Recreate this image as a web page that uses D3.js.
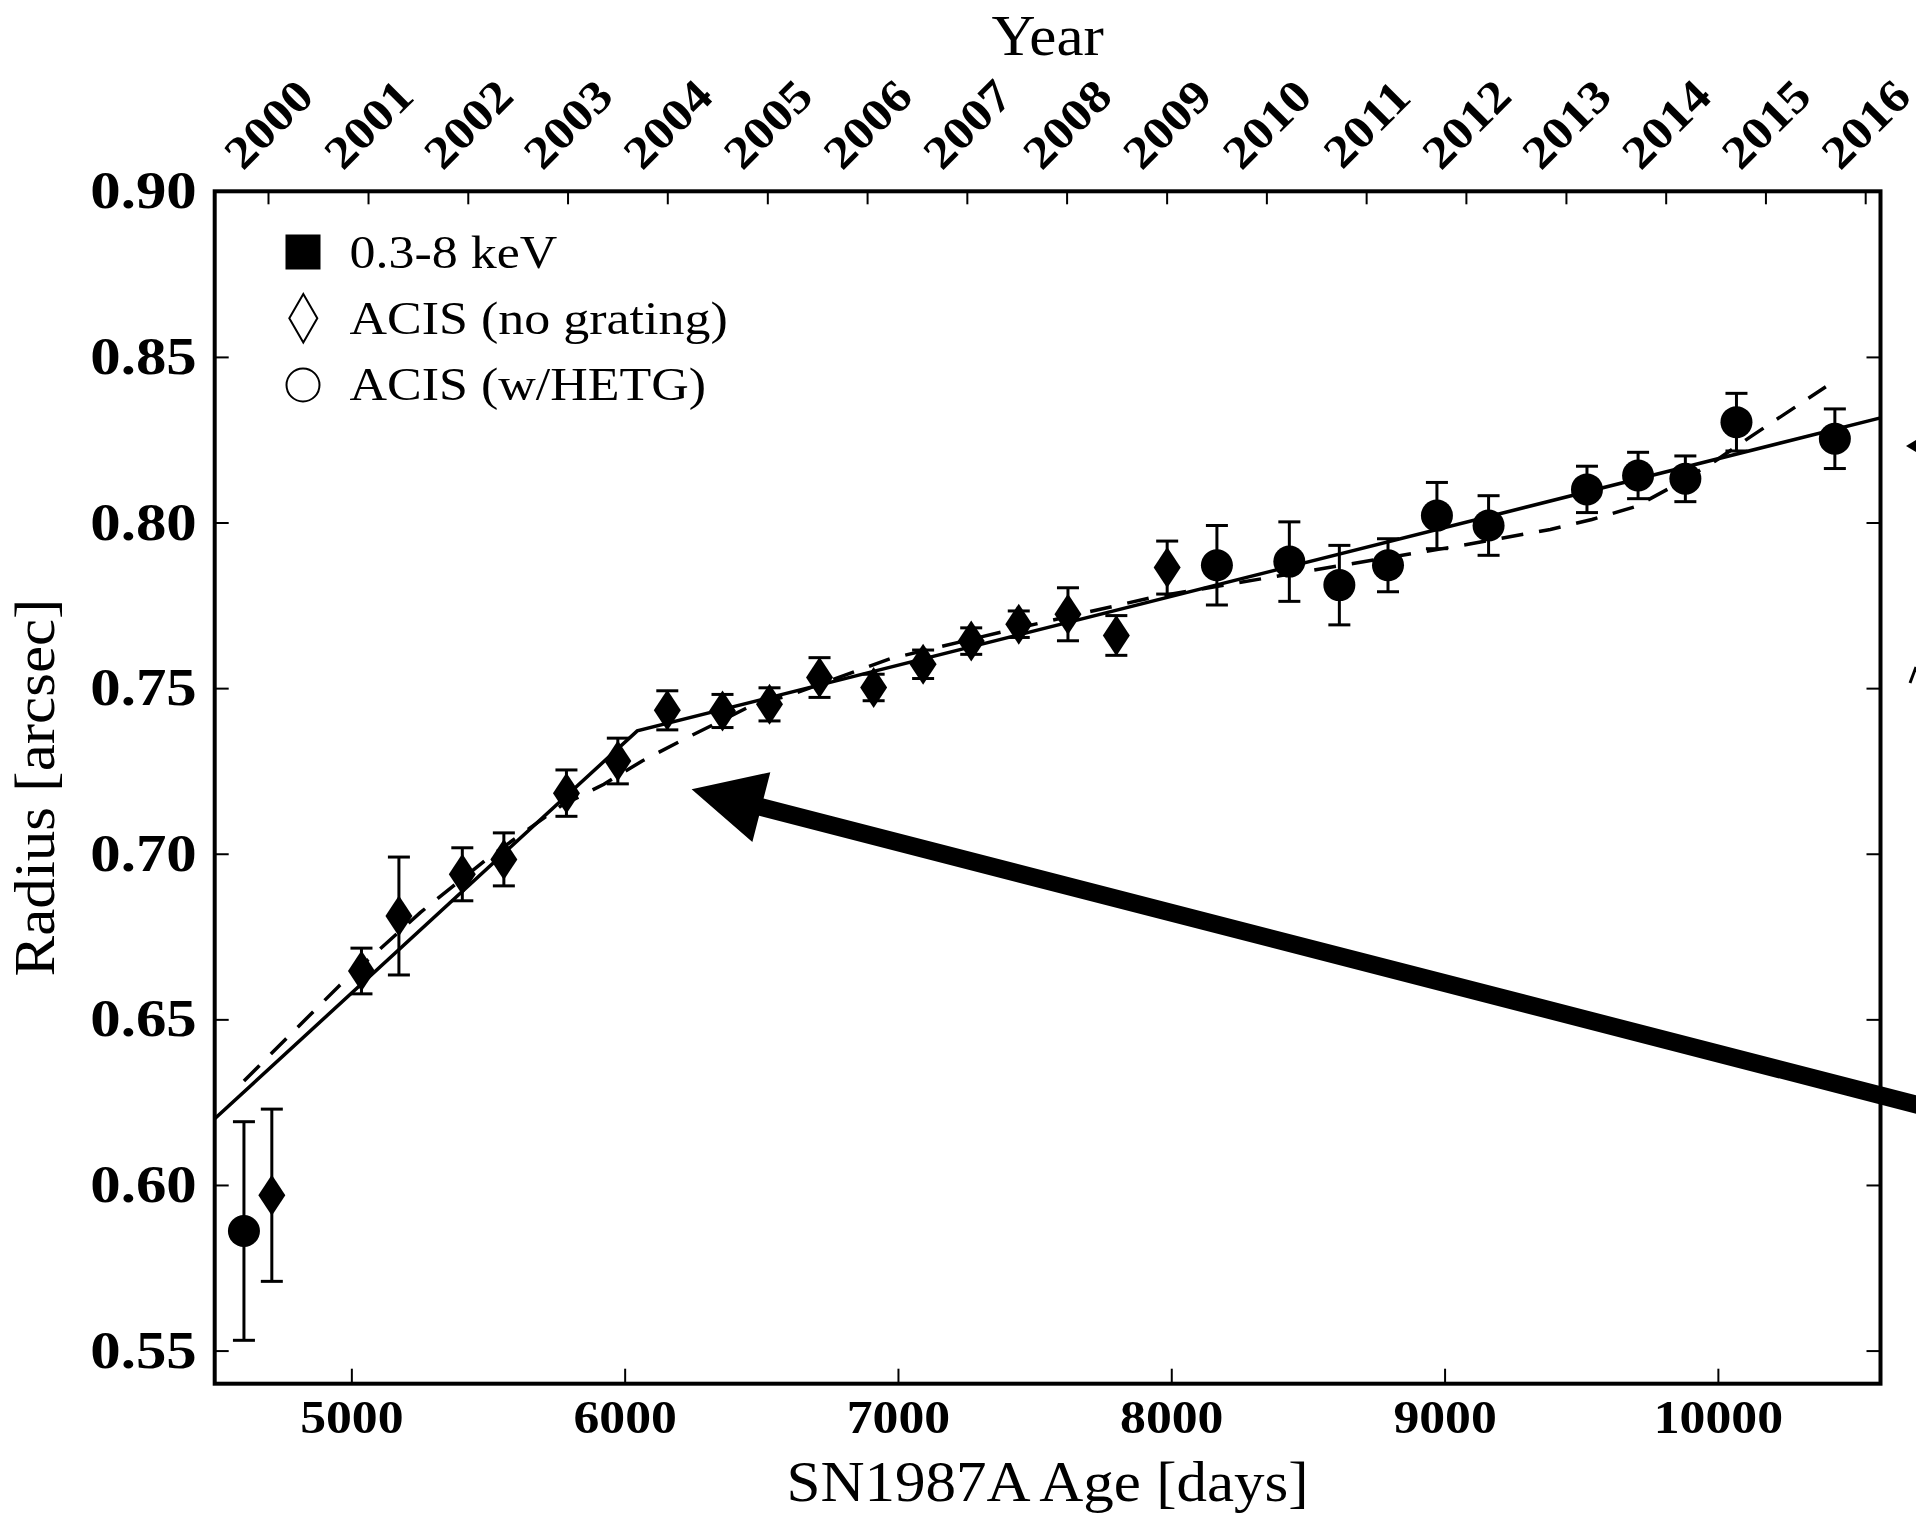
<!DOCTYPE html>
<html><head><meta charset="utf-8">
<script src="https://cdn.jsdelivr.net/npm/d3@7"></script>
<style>body{margin:0;background:#fff} svg{display:block}</style>
</head><body>
<svg id="chart" width="1916" height="1515"></svg>
<script>
// ---------------- data ----------------
const diamondDays   = [4709, 5037, 5174, 5406, 5558, 5787, 5975, 6156, 6358, 6530, 6713, 6911, 7092, 7268, 7442, 7622, 7799, 7985];
const diamondRadius = [0.5969, 0.6646, 0.6812, 0.6938, 0.6983, 0.7183, 0.7280, 0.7433, 0.7431, 0.7451, 0.7532, 0.7502, 0.7572, 0.7642, 0.7693, 0.7723, 0.7659, 0.7864];
const diamondErr    = [0.026, 0.0069, 0.0178, 0.008, 0.008, 0.007, 0.0069, 0.0059, 0.005, 0.005, 0.006, 0.004, 0.0043, 0.004, 0.004, 0.008, 0.006, 0.008];

const circleDays   = [4607, 8167, 8432, 8615, 8793, 8972, 9161, 9521, 9708, 9881, 10068, 10428];
const circleRadius = [0.5861, 0.7871, 0.7882, 0.7811, 0.7871, 0.8021, 0.7991, 0.8100, 0.8142, 0.8132, 0.8303, 0.8253];
const circleErr    = [0.033, 0.012, 0.012, 0.012, 0.008, 0.010, 0.009, 0.007, 0.007, 0.0069, 0.0087, 0.009];

const fitDays   = [4500, 6046, 10595];
const fitRadius = [0.620, 0.7371, 0.8316];

const modelDays   = [4607, 4955, 5253, 5510, 5766, 5924, 6064, 6211, 6473, 6595, 6973, 7448, 7936, 8423, 9063, 9387, 9539, 9702, 9837, 9989, 10123, 10395];
const modelRadius = [0.6314, 0.6601, 0.6823, 0.6993, 0.7144, 0.7210, 0.7280, 0.7343, 0.7451, 0.7476, 0.7589, 0.7683, 0.7775, 0.7843, 0.7931, 0.7979, 0.8009, 0.8049, 0.8110, 0.8185, 0.8261, 0.8410];

const xTicks = [5000, 6000, 7000, 8000, 9000, 10000];
const yTicks = [0.55, 0.60, 0.65, 0.70, 0.75, 0.80, 0.85, 0.90];
const years  = [2000, 2001, 2002, 2003, 2004, 2005, 2006, 2007, 2008, 2009, 2010, 2011, 2012, 2013, 2014, 2015, 2016];

const arrowTip  = [6245, 0.7195];
const arrowTail = [11031, 0.6178];

const legendLabels = ["0.3-8 keV", "ACIS (no grating)", "ACIS (w/HETG)"];
const xLabel = "SN1987A Age [days]";
const yLabel = "Radius [arcsec]";
const topLabel = "Year";

// ---------------- layout ----------------
const L = 214.7, R = 1880.5, T = 191.3, B = 1383.7;
const FONT = "'Liberation Serif', 'Times New Roman', serif";
const svg = d3.select("#chart");

const x = d3.scaleLinear().domain([4500, 10595]).range([L, R]);
const y = d3.scaleLinear().domain([0.54, 0.90]).range([B, T]);
const explosion = new Date(1987, 1, 23);
const yearDays = years.map(yr => d3.timeDay.count(explosion, new Date(yr, 0, 1)));

svg.append("defs").append("clipPath").attr("id", "plotclip")
  .append("rect").attr("x", L).attr("y", T).attr("width", R - L).attr("height", B - T);

// ---------------- axes ----------------
function styleAxis(g) {
  g.select(".domain").remove();
  g.selectAll(".tick line").attr("stroke", "#000").attr("stroke-width", 2);
}
const gB = svg.append("g").attr("transform", `translate(0,${B})`)
  .call(d3.axisBottom(x).tickValues(xTicks).tickFormat(d3.format("d")).tickSizeInner(-15).tickSizeOuter(0));
styleAxis(gB);
gB.selectAll(".tick text")
  .attr("y", 49.5).attr("dy", 0)
  .attr("font-family", FONT).attr("font-weight", "bold").attr("font-size", 47)
  .attr("fill", "#000")
  .attr("transform", "scale(1.1,1)");

const gL = svg.append("g").attr("transform", `translate(${L},0)`)
  .call(d3.axisLeft(y).tickValues(yTicks).tickFormat(d3.format(".2f")).tickSizeInner(-14).tickSizeOuter(0));
styleAxis(gL);
const sxY = 1.17;
gL.selectAll(".tick text")
  .attr("x", -18 / sxY).attr("dy", 0).attr("y", 16.5)
  .attr("font-family", FONT).attr("font-weight", "bold").attr("font-size", 52)
  .attr("fill", "#000").attr("text-anchor", "end")
  .attr("transform", `scale(${sxY},1)`);

const gR = svg.append("g").attr("transform", `translate(${R},0)`)
  .call(d3.axisRight(y).tickValues(yTicks).tickFormat("").tickSizeInner(-14).tickSizeOuter(0));
styleAxis(gR);

const gT = svg.append("g").attr("transform", `translate(0,${T})`)
  .call(d3.axisTop(x).tickValues(yearDays).tickFormat((d, i) => years[i]).tickSizeInner(-13).tickSizeOuter(0));
styleAxis(gT);
gT.selectAll(".tick text")
  .attr("x", null).attr("y", null).attr("dy", "0.338em")
  .attr("font-family", FONT).attr("font-weight", "bold").attr("font-size", 46)
  .attr("fill", "#000").attr("text-anchor", "middle")
  .attr("transform", `translate(0,${124 - T}) rotate(-45) scale(1.12,1)`);

// ---------------- fit lines ----------------
const plot = svg.append("g").attr("clip-path", "url(#plotclip)");
const line = d3.line().x(d => x(d[0])).y(d => y(d[1]));
plot.append("path")
  .attr("d", line(fitDays.map((d, i) => [d, fitRadius[i]])))
  .attr("fill", "none").attr("stroke", "#000").attr("stroke-width", 3.5);
plot.append("path")
  .attr("d", line(modelDays.map((d, i) => [d, modelRadius[i]])))
  .attr("fill", "none").attr("stroke", "#000").attr("stroke-width", 3.5)
  .attr("stroke-dasharray", "22,16");

// ---------------- error bars + markers ----------------
const pts = svg.append("g");
function errBars(days, vals, errs) {
  days.forEach((d, i) => {
    const cx = x(d), y1 = y(vals[i] + errs[i]), y2 = y(vals[i] - errs[i]);
    pts.append("line").attr("x1", cx).attr("x2", cx).attr("y1", y1).attr("y2", y2)
      .attr("stroke", "#000").attr("stroke-width", 3);
    [y1, y2].forEach(yy => pts.append("line").attr("x1", cx - 11).attr("x2", cx + 11)
      .attr("y1", yy).attr("y2", yy).attr("stroke", "#000").attr("stroke-width", 3));
  });
}
errBars(diamondDays, diamondRadius, diamondErr);
errBars(circleDays, circleRadius, circleErr);

pts.selectAll("path.dia").data(diamondDays.map((d, i) => [d, diamondRadius[i]])).enter()
  .append("path").attr("class", "dia")
  .attr("d", d => { const cx = x(d[0]), cy = y(d[1]);
    return `M${cx},${cy - 20.5}L${cx + 13.5},${cy}L${cx},${cy + 20.5}L${cx - 13.5},${cy}Z`; })
  .attr("fill", "#000");
pts.selectAll("circle.cir").data(circleDays.map((d, i) => [d, circleRadius[i]])).enter()
  .append("circle").attr("class", "cir")
  .attr("cx", d => x(d[0])).attr("cy", d => y(d[1])).attr("r", 16)
  .attr("fill", "#000");

// ---------------- frame ----------------
svg.append("rect").attr("x", L).attr("y", T).attr("width", R - L).attr("height", B - T)
  .attr("fill", "none").attr("stroke", "#000").attr("stroke-width", 4);

// ---------------- legend ----------------
const lg = svg.append("g");
lg.append("rect").attr("x", 285.5).attr("y", 234.5).attr("width", 35).attr("height", 35).attr("fill", "#000");
lg.append("path").attr("d", "M303.3,294L317.3,318.2L303.3,342.4L289.3,318.2Z")
  .attr("fill", "#fff").attr("stroke", "#000").attr("stroke-width", 2);
lg.append("circle").attr("cx", 303).attr("cy", 385).attr("r", 16.5)
  .attr("fill", "#fff").attr("stroke", "#000").attr("stroke-width", 2);
[268, 334, 400].forEach((by, i) => {
  lg.append("text").attr("transform", `translate(349.5,${by}) scale(1.13,1)`)
    .attr("font-family", FONT).attr("font-size", 46).attr("fill", "#000")
    .text(legendLabels[i]);
});

// ---------------- axis labels ----------------
svg.append("text").attr("transform", `translate(${(L + R) / 2},1501) scale(1.09,1)`)
  .attr("text-anchor", "middle").attr("font-family", FONT).attr("font-size", 56).attr("fill", "#000")
  .text(xLabel);
svg.append("text").attr("transform", `translate(${(L + R) / 2},55) scale(1.09,1)`)
  .attr("text-anchor", "middle").attr("font-family", FONT).attr("font-size", 56).attr("fill", "#000")
  .text(topLabel);
svg.append("text").attr("transform", `translate(54,${(T + B) / 2}) rotate(-90) scale(1.09,1)`)
  .attr("text-anchor", "middle").attr("font-family", FONT).attr("font-size", 56).attr("fill", "#000")
  .text(yLabel);

// ---------------- arrow annotation ----------------
(function () {
  const tx = x(arrowTip[0]), ty = y(arrowTip[1]);
  const ex = x(arrowTail[0]), ey = y(arrowTail[1]);
  const len = Math.hypot(ex - tx, ey - ty);
  const ux = (ex - tx) / len, uy = (ey - ty) / len;   // tip -> tail
  const nx = -uy, ny = ux;
  const headLen = 72, headHalf = 36, shaftHalf = 8.9;
  const bx = tx + ux * headLen, by = ty + uy * headLen;
  const P = [
    [tx, ty],
    [bx + nx * headHalf, by + ny * headHalf],
    [bx + nx * shaftHalf, by + ny * shaftHalf],
    [ex + nx * shaftHalf, ey + ny * shaftHalf],
    [ex - nx * shaftHalf, ey - ny * shaftHalf],
    [bx - nx * shaftHalf, by - ny * shaftHalf],
    [bx - nx * headHalf, by - ny * headHalf]
  ];
  svg.append("path").attr("d", "M" + P.map(p => p.join(",")).join("L") + "Z").attr("fill", "#000");
})();

// fragments of neighbouring annotations cut at the right edge
svg.append("path").attr("d", "M1906,446L1916,440L1916,452Z").attr("fill", "#000");
svg.append("line").attr("x1", 1910).attr("y1", 683).attr("x2", 1916).attr("y2", 667)
  .attr("stroke", "#000").attr("stroke-width", 3);
</script>
</body></html>
